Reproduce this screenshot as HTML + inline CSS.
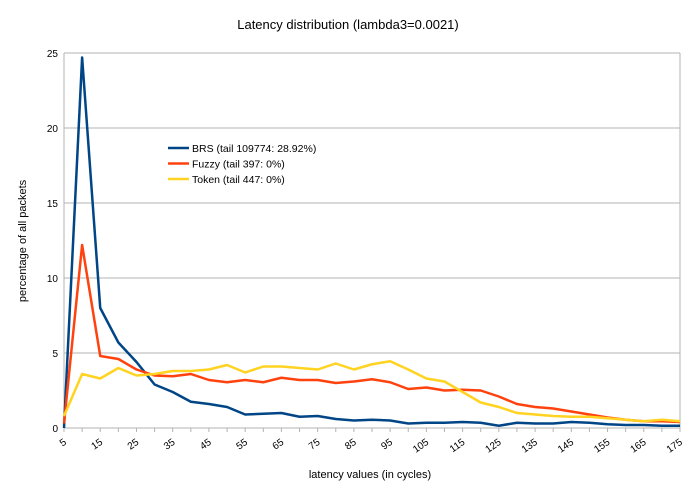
<!DOCTYPE html>
<html><head><meta charset="utf-8"><style>
body{margin:0;background:#fff;}
svg{font-family:"Liberation Sans",sans-serif;}
</style></head><body>
<svg id="chart" width="696" height="495">
<rect width="696" height="495" fill="#fff"/>
<text x="348" y="29" text-anchor="middle" font-size="13">Latency distribution (lambda3=0.0021)</text>
<g id="grid"></g><g id="axes"></g><g id="series"></g>
<text x="370" y="478" text-anchor="middle" font-size="11">latency values (in cycles)</text>
<text transform="translate(26,241) rotate(-90)" text-anchor="middle" font-size="11">percentage of all packets</text>
<g id="legend"></g>
</svg>
<script>
const categories=[5,10,15,20,25,30,35,40,45,50,55,60,65,70,75,80,85,90,95,100,105,110,115,120,125,130,135,140,145,150,155,160,165,170,175];
const brs=[0,24.7,8.0,5.7,4.4,2.9,2.4,1.75,1.6,1.4,0.9,0.95,1.0,0.75,0.8,0.6,0.5,0.55,0.5,0.3,0.35,0.35,0.4,0.35,0.15,0.35,0.3,0.3,0.4,0.35,0.25,0.2,0.2,0.15,0.15];
const fuzzy=[0.3,12.2,4.8,4.6,3.9,3.5,3.45,3.6,3.2,3.05,3.2,3.05,3.35,3.2,3.2,3.0,3.1,3.25,3.05,2.6,2.7,2.5,2.55,2.5,2.1,1.6,1.4,1.3,1.1,0.9,0.7,0.55,0.45,0.45,0.4];
const token=[0.8,3.6,3.3,4.0,3.5,3.6,3.8,3.8,3.9,4.2,3.7,4.1,4.1,4.0,3.9,4.3,3.9,4.25,4.45,3.9,3.3,3.1,2.4,1.7,1.4,1.0,0.9,0.8,0.75,0.75,0.65,0.55,0.45,0.55,0.45];
const yTicks=[0,5,10,15,20,25];
const seriesNames=["BRS (tail 109774: 28.92%)","Fuzzy (tail 397: 0%)","Token (tail 447: 0%)"];
const colors=["#004586","#ff420e","#ffd320"];
const NS="http://www.w3.org/2000/svg";
const L=64,R=680,T=53,B=428;
const xs=i=>L+(R-L)*i/(categories.length-1);
const ys=v=>B-(B-T)*v/25;
function mk(tag,attrs,parent){const e=document.createElementNS(NS,tag);for(const k in attrs)e.setAttribute(k,attrs[k]);document.getElementById(parent).appendChild(e);return e;}
yTicks.forEach(t=>{
 const g=mk('line',{x1:L,x2:R,y1:ys(t),y2:ys(t),stroke:'#b3b3b3','stroke-width':1},'grid');
 
 
 const tx=mk('text',{x:L-6,y:ys(t)+4,'text-anchor':'end','font-size':10},'axes');
 tx.textContent=t;
 
 
});
let a=mk('line',{x1:L,x2:L,y1:T,y2:B,stroke:'#b3b3b3'},'axes');


a=mk('line',{x1:R,x2:R,y1:T,y2:B,stroke:'#b3b3b3'},'axes');


categories.forEach((c,i)=>{
 const x=xs(i);
 const tk=mk('line',{x1:x,x2:x,y1:B,y2:B+4,stroke:'#b3b3b3'},'axes');
 
 
 if(i%2===0){
  const tx=mk('text',{x:x,y:B+14,'text-anchor':'end','font-size':10,transform:`rotate(-35 ${x+4} ${B+10})`},'axes');
  tx.textContent=c;
  
  
 }
});
[brs,fuzzy,token].forEach((s,k)=>{
 const p=mk('polyline',{points:s.map((v,i)=>xs(i)+','+ys(v)).join(' '),fill:'none',stroke:colors[k],'stroke-width':2.5,'stroke-linejoin':'round'},'series');
 
 
 const ly=148+k*15.5;
 const ll=mk('line',{x1:168,x2:189,y1:ly,y2:ly,stroke:colors[k],'stroke-width':2.5},'legend');
 
 
 const lt=mk('text',{x:192,y:ly+4,'font-size':10.5},'legend');
 lt.textContent=seriesNames[k];
 
 
});
</script>
</body></html>
